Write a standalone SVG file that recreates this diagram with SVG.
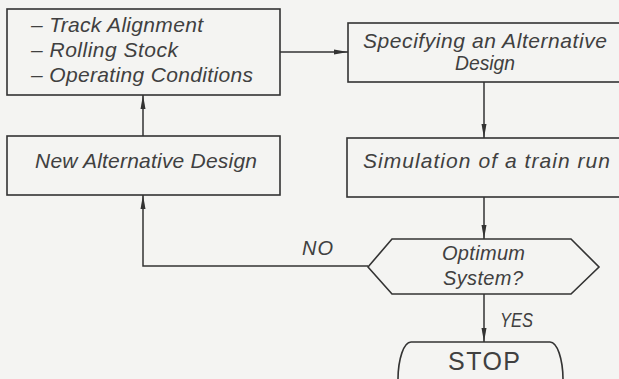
<svg xmlns="http://www.w3.org/2000/svg" width="619" height="379" viewBox="0 0 619 379">
  <style>
    .box { fill: none; stroke: #333; stroke-width: 1.6; }
    .wire { fill: none; stroke: #333; stroke-width: 1.5; }
    .lbl { font-family: "Liberation Sans", Arial, sans-serif; font-style: italic; font-size: 21px; fill: #404040; }
    .small { font-size: 20px; }
    .stop { font-family: "Liberation Sans", Arial, sans-serif; font-size: 25px; fill: #404040; }
  </style>
  <defs>
    <marker id="head" markerUnits="userSpaceOnUse" markerWidth="15" markerHeight="7" refX="14" refY="3.5" orient="auto">
      <path d="M0,1 L14,3.5 L0,6 Z" fill="#333"/>
    </marker>
  </defs>

  <rect width="619" height="379" fill="#f4f4f2"/>

  <!-- design parameters -->
  <g id="parameters">
    <rect class="box" x="7" y="9" width="273" height="86"/>
    <text class="lbl" x="31" y="32" textLength="172" lengthAdjust="spacing">– Track Alignment</text>
    <text class="lbl" x="31" y="57" textLength="147" lengthAdjust="spacing">– Rolling Stock</text>
    <text class="lbl" x="31" y="82" textLength="222" lengthAdjust="spacing">– Operating Conditions</text>
  </g>

  <g id="new-design">
    <rect class="box" x="7" y="136" width="273" height="59"/>
    <text class="lbl" x="35" y="168" textLength="222" lengthAdjust="spacing">New Alternative Design</text>
  </g>

  <g id="specify">
    <rect class="box" x="348" y="23" width="274" height="59"/>
    <text class="lbl" x="363" y="48" textLength="244" lengthAdjust="spacing">Specifying an Alternative</text>
    <text class="lbl" x="455" y="70" textLength="60" lengthAdjust="spacingAndGlyphs">Design</text>
  </g>

  <g id="simulation">
    <rect class="box" x="347" y="138" width="275" height="59"/>
    <text class="lbl" x="363" y="168" textLength="247" lengthAdjust="spacing">Simulation of a train run</text>
  </g>

  <g id="decision">
    <polygon class="box" points="368,267 392,239 571,239 599,267 571,294 392,294"/>
    <text class="lbl small" x="442" y="260" textLength="83" lengthAdjust="spacing">Optimum</text>
    <text class="lbl small" x="443" y="285" textLength="80" lengthAdjust="spacing">System?</text>
  </g>

  <g id="stop">
    <path class="box" d="M411,342 H550 A13,38 0 0 1 550,418 H411 A13,38 0 0 1 411,342 Z"/>
    <text class="stop" x="448" y="370" textLength="72" lengthAdjust="spacing">STOP</text>
  </g>

  <g id="connectors">
    <path class="wire" d="M280,52 H348" marker-end="url(#head)"/>
    <path class="wire" d="M484,82 V138" marker-end="url(#head)"/>
    <path class="wire" d="M484,197 V239" marker-end="url(#head)"/>
    <path class="wire" d="M484,294 V342" marker-end="url(#head)"/>
    <path class="wire" d="M368,266 H143 V195" marker-end="url(#head)"/>
    <path class="wire" d="M143,136 V95" marker-end="url(#head)"/>
    <text class="lbl small" x="302" y="255" textLength="31" lengthAdjust="spacing">NO</text>
    <text class="lbl small" x="500" y="327" textLength="33" lengthAdjust="spacingAndGlyphs">YES</text>
  </g>
</svg>
